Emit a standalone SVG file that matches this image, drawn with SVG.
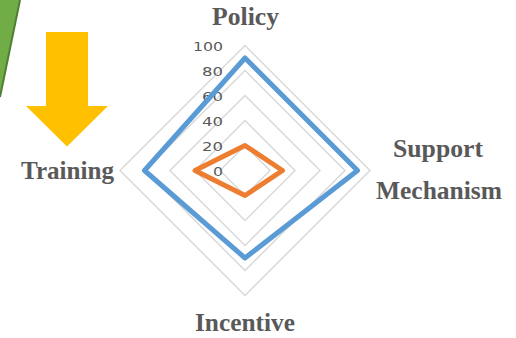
<svg xmlns="http://www.w3.org/2000/svg" width="516" height="338" viewBox="0 0 516 338">
<style>
.ring{fill:none;stroke:#d9d9d9;stroke-width:1.5}
.tick{font-family:"DejaVu Sans",sans-serif;font-size:12.5px;fill:#595959;text-anchor:end}
.cat{font-family:"Liberation Serif","DejaVu Serif",serif;font-size:25px;font-weight:bold;fill:#595959}
.series{fill:none;stroke-width:5;stroke-linejoin:round}
</style>
<rect width="516" height="338" fill="#ffffff"/>
<g id="decor">
<polygon points="0,0 20,0 0,97" fill="#70AD47"/>
<line x1="20" y1="0" x2="0" y2="97" stroke="#507E32" stroke-width="2"/>
<polygon points="46,32 88,32 88,106 108,106 67,146.5 26,106 46,106" fill="#FFC000"/>
</g>
<g id="grid">
<polygon class="ring" points="245,145.5 270,170.5 245,195.5 220,170.5"/>
<polygon class="ring" points="245,120.5 295,170.5 245,220.5 195,170.5"/>
<polygon class="ring" points="245,95.5 320,170.5 245,245.5 170,170.5"/>
<polygon class="ring" points="245,70.5 345,170.5 245,270.5 145,170.5"/>
<polygon class="ring" points="245,45.5 370,170.5 245,295.5 120,170.5"/>
</g>
<g id="ticks">
<text class="tick" x="223" y="51" textLength="30" lengthAdjust="spacingAndGlyphs">100</text>
<text class="tick" x="223" y="76" textLength="21" lengthAdjust="spacingAndGlyphs">80</text>
<text class="tick" x="223" y="101" textLength="21" lengthAdjust="spacingAndGlyphs">60</text>
<text class="tick" x="223" y="126" textLength="21" lengthAdjust="spacingAndGlyphs">40</text>
<text class="tick" x="223" y="151" textLength="21" lengthAdjust="spacingAndGlyphs">20</text>
<text class="tick" x="223" y="176" textLength="10" lengthAdjust="spacingAndGlyphs">0</text>
</g>
<g id="connectors">
<polygon id="series-blue" class="series" stroke="#5B9BD5" points="245,58 357.5,170.5 245,258 144.5,170.5"/>
<polygon id="series-orange" class="series" stroke="#ED7D31" points="245,145.5 282.5,170.5 245,195.5 195,170.5"/>
</g>
<g id="node-policy"><text class="cat" x="212" y="25" textLength="67" lengthAdjust="spacingAndGlyphs">Policy</text></g>
<g id="node-support"><text class="cat" x="393" y="157" textLength="90" lengthAdjust="spacingAndGlyphs">Support</text><text class="cat" x="376" y="199" textLength="126" lengthAdjust="spacingAndGlyphs">Mechanism</text></g>
<g id="node-incentive"><text class="cat" x="195" y="331" textLength="100" lengthAdjust="spacingAndGlyphs">Incentive</text></g>
<g id="node-training"><text class="cat" x="21" y="179" textLength="93" lengthAdjust="spacingAndGlyphs">Training</text></g>
</svg>
